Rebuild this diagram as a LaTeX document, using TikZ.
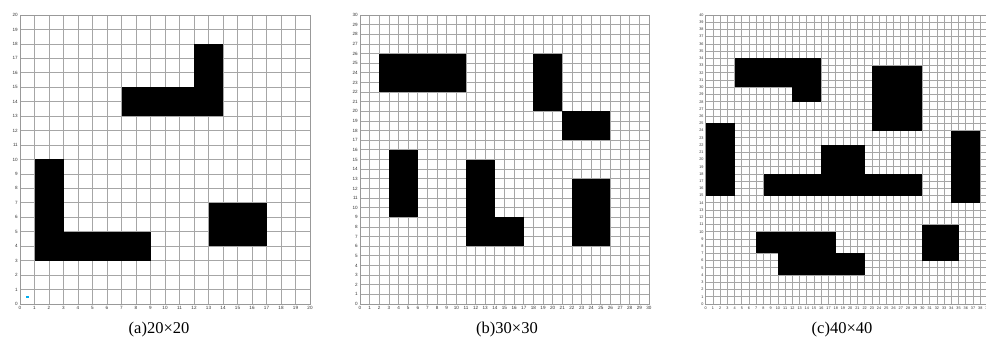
\documentclass[tikz,border=0pt]{standalone}
\usepackage{fontspec}
\setmainfont{Liberation Serif}
\newfontfamily\ticksf{Liberation Sans}
\begin{document}
\begin{tikzpicture}[x=1pt,y=1pt,
  gridln/.style={draw=gray!70, line width=0.75pt},
  frameln/.style={draw=gray!80, line width=0.8pt},
  obst/.style={fill=black},
  ticklab/.style={font=\ticksf\fontsize{4.6}{5}\selectfont, text=gray!40!black, inner sep=0.5pt},
  ticklabc/.style={font=\ticksf\fontsize{3.8}{4}\selectfont, text=gray!40!black, inner sep=0.4pt},
  captxt/.style={font=\fontsize{16.5}{19}\selectfont, anchor=base, inner sep=0pt}]
\useasboundingbox[fill=white] (0,0) rectangle (986,340);

% ---------- (a) 20x20 ----------
\begin{scope}[shift={(20,36)}, x=14.5pt, y=14.45pt]
  \foreach \i in {0,...,20} {
    \draw[gridln] (\i,0) -- (\i,20);
    \draw[gridln] (0,\i) -- (20,\i);
    \node[ticklab, below, yshift=-2pt] (ax\i) at (\i,0) {\i};
    \node[ticklab, left, xshift=-1.5pt] (ay\i) at (0,\i) {\i};
  }
  \draw[frameln] (0,0) rectangle (20,20);
  \fill[obst] (1,3) rectangle (3,10);
  \fill[obst] (3,3) rectangle (9,5);
  \fill[obst] (7,13) rectangle (14,15);
  \fill[obst] (12,15) rectangle (14,18);
  \fill[obst] (13,4) rectangle (17,7);
  \node[fill=cyan, minimum size=2.5pt, inner sep=0pt] (start) at (0.5,0.5) {};
\end{scope}
\node[captxt] (capa) at (159,6.5) {(a)20×20};

% ---------- (b) 30x30 ----------
\begin{scope}[shift={(360,36)}, x=9.633pt, y=9.633pt]
  \foreach \i in {0,...,30} {
    \draw[gridln] (\i,0) -- (\i,30);
    \draw[gridln] (0,\i) -- (30,\i);
    \node[ticklab, below, yshift=-2pt] (bx\i) at (\i,0) {\i};
    \node[ticklab, left, xshift=-1.5pt] (by\i) at (0,\i) {\i};
  }
  \draw[frameln] (0,0) rectangle (30,30);
  \fill[obst] (2,22) rectangle (11,26);
  \fill[obst] (18,20) rectangle (21,26);
  \fill[obst] (21,17) rectangle (26,20);
  \fill[obst] (3,9) rectangle (6,16);
  \fill[obst] (11,6) rectangle (14,15);
  \fill[obst] (14,6) rectangle (17,9);
  \fill[obst] (22,6) rectangle (26,13);
\end{scope}
\node[captxt] (capb) at (507,6.5) {(b)30×30};

% ---------- (c) 40x40 ----------
\begin{scope}[shift={(705.7,36)}, x=7.225pt, y=7.225pt]
  \clip (-10,-5) rectangle (38.78,42);
  \foreach \i in {0,...,40} {
    \draw[gridln] (\i,0) -- (\i,40);
    \draw[gridln] (0,\i) -- (40,\i);
    \node[ticklabc, below, yshift=-2pt] (cx\i) at (\i,0) {\i};
    \node[ticklabc, left, xshift=-1.5pt] (cy\i) at (0,\i) {\i};
  }
  \draw[frameln] (0,0) rectangle (40,40);
  \fill[obst] (4,30) rectangle (16,34);
  \fill[obst] (12,28) rectangle (16,30);
  \fill[obst] (23,24) rectangle (30,33);
  \fill[obst] (0,15) rectangle (4,25);
  \fill[obst] (34,14) rectangle (38,24);
  \fill[obst] (16,18) rectangle (22,22);
  \fill[obst] (8,15) rectangle (30,18);
  \fill[obst] (7,7) rectangle (18,10);
  \fill[obst] (10,4) rectangle (22,7);
  \fill[obst] (30,6) rectangle (35,11);
\end{scope}
\node[captxt] (capc) at (842,6.5) {(c)40×40};
\end{tikzpicture}
\end{document}
